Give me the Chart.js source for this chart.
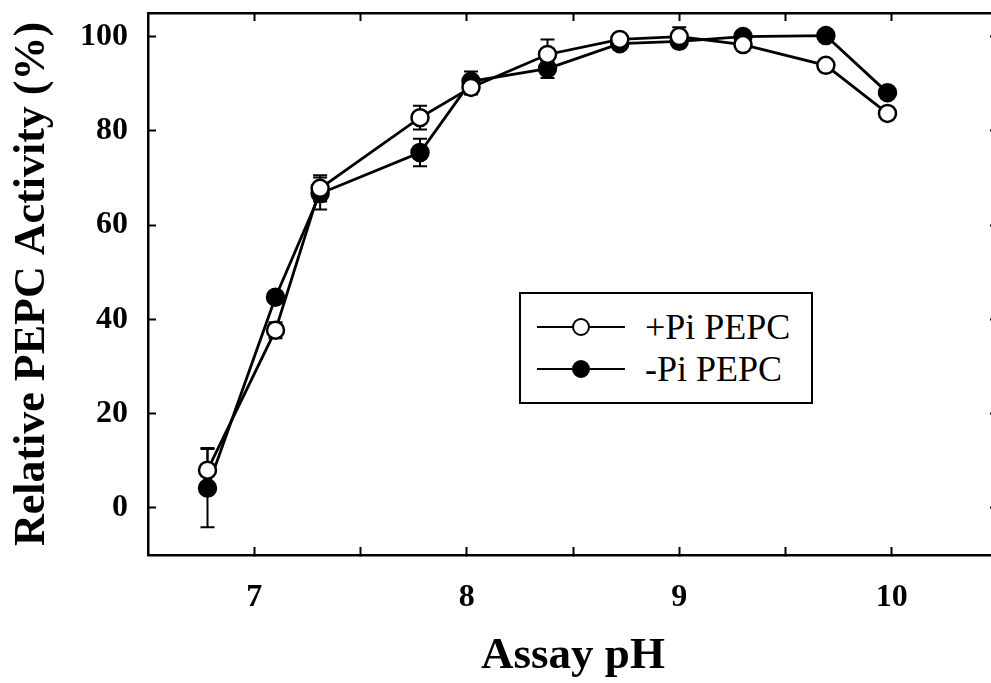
<!DOCTYPE html>
<html>
<head>
<meta charset="utf-8">
<script src="https://cdn.jsdelivr.net/npm/chart.js@4.4.1/dist/chart.umd.min.js"></script>
<style>
    html, body { margin: 0; background: #fff; overflow: hidden; }
    #wrap { position: relative; width: 991px; height: 683px; overflow: hidden; }
    #phChart { position: absolute; left: 0; top: 0; display: block; }
    #legend {
        position: absolute; left: 519px; top: 292px; width: 294px; height: 112px;
        border: 2px solid #000; background: #fff; box-sizing: border-box;
        font-family: 'Liberation Serif', serif; font-size: 36px; color: #000;
        padding-top: 12px;
    }
    #legend .row { display: flex; align-items: center; height: 42px; }
    #legend .sample { position: relative; width: 88px; height: 20px; margin-left: 16px; margin-right: 20px; }
    #legend .sample .ln { position: absolute; left: 0; right: 0; top: 9px; border-top: 2.5px solid #000; }
    #legend .sample .dot { position: absolute; left: 35px; top: 1px; width: 14px; height: 14px; border: 2.5px solid #000; border-radius: 50%; }
</style>
</head>
<body>
<div id="wrap">
    <!-- the frame of the original runs a few pixels past the right edge, so the canvas is clipped -->
    <canvas id="phChart" width="1000" height="683"></canvas>
    <div id="legend"></div>
</div>
<script>
// data
const assayPH = [6.78, 7.1, 7.31, 7.78, 8.02, 8.38, 8.72, 9.0, 9.3, 9.69, 9.98];
const plusPi = [8.0, 37.7, 67.8, 82.8, 89.2, 96.2, 99.4, 100, 98.3, 93.9, 83.7];
const plusPiErr = [4.7, 1.7, 2.8, 2.5, 1.5, 3.2, 1.0, 2.0, 0.5, 0.5, 0.5];
const minusPi = [4.2, 44.7, 66.7, 75.4, 90.5, 93.2, 98.5, 99.0, 100, 100.2, 88.1];
const minusPiErr = [8.3, 1.0, 3.4, 2.9, 2.1, 2.0, 1.0, 1.0, 0.5, 0.5, 0.5];
const seriesNames = ['+Pi PEPC', '-Pi PEPC'];
const xTicks = [7, 7.5, 8, 8.5, 9, 9.5, 10];
const yTicks = [0, 20, 40, 60, 80, 100];
const xMin = 6.5, xMax = 10.5;
const yMin = -10, yMax = 105;

const serif = "'Liberation Serif', 'Times New Roman', serif";
const errSets = [plusPiErr, minusPiErr];

function pts(ys) {
    return assayPH.map((x, i) => ({ x: x, y: ys[i] }));
}

// vertical error bars with caps, placed through the chart scales
const errorBars = {
    id: 'errorBars',
    beforeDatasetsDraw(chart) {
        const ctx = chart.ctx;
        const xs = chart.scales.x, ys = chart.scales.y;
        ctx.save();
        ctx.strokeStyle = '#000';
        ctx.lineWidth = 2;
        chart.data.datasets.forEach((ds, d) => {
            ds.data.forEach((p, i) => {
                const e = errSets[d][i];
                const px = xs.getPixelForValue(p.x);
                const top = ys.getPixelForValue(p.y + e);
                const bot = ys.getPixelForValue(p.y - e);
                ctx.beginPath();
                ctx.moveTo(px, top); ctx.lineTo(px, bot);
                ctx.moveTo(px - 7, top); ctx.lineTo(px + 7, top);
                ctx.moveTo(px - 7, bot); ctx.lineTo(px + 7, bot);
                ctx.stroke();
            });
        });
        ctx.restore();
    }
};

const frameGrid = {
    display: true,
    drawOnChartArea: false,
    drawTicks: true,
    tickLength: -8,
    tickColor: '#000',
    tickWidth: 2
};
const frameBorder = { display: true, color: '#000', width: 2.5 };

// fixed box sizes, no extra padding for edge labels
function fixBox(w, h) {
    return s => {
        if (w !== null) s.width = w;
        if (h !== null) s.height = h;
        s.paddingTop = 0; s.paddingBottom = 0;
        s.paddingLeft = 0; s.paddingRight = 0;
    };
}

const ctx = document.getElementById('phChart').getContext('2d');
const phChart = new Chart(ctx, {
    type: 'line',
    data: {
        datasets: [
            {
                label: seriesNames[0],
                data: pts(plusPi),
                borderColor: '#000',
                borderWidth: 2.8,
                pointRadius: 8.5,
                pointBorderWidth: 2.5,
                pointBackgroundColor: '#fff',
                pointBorderColor: '#000',
                tension: 0
            },
            {
                label: seriesNames[1],
                data: pts(minusPi),
                borderColor: '#000',
                borderWidth: 2.8,
                pointRadius: 8.5,
                pointBorderWidth: 2.5,
                pointBackgroundColor: '#000',
                pointBorderColor: '#000',
                tension: 0
            }
        ]
    },
    options: {
        responsive: false,
        animation: false,
        layout: { autoPadding: false, padding: { top: 13, right: 2, left: 0, bottom: 0 } },
        plugins: {
            legend: { display: false },
            tooltip: { enabled: false }
        },
        scales: {
            x: {
                type: 'linear',
                position: 'bottom',
                min: xMin,
                max: xMax,
                afterBuildTicks: s => { s.ticks = xTicks.map(v => ({ value: v })); },
                afterFit: fixBox(null, 128),
                ticks: {
                    padding: 32,
                    color: '#000',
                    font: { family: serif, size: 32, weight: 'bold' },
                    callback: v => (Number.isInteger(v) ? String(v) : '')
                },
                grid: frameGrid,
                border: frameBorder,
                title: {
                    display: true,
                    text: 'Assay pH',
                    color: '#000',
                    font: { family: serif, size: 45, weight: 'bold' },
                    padding: { top: 0, bottom: 0 }
                }
            },
            x2: {
                type: 'linear',
                position: 'top',
                min: xMin,
                max: xMax,
                afterBuildTicks: s => { s.ticks = xTicks.map(v => ({ value: v })); },
                afterFit: fixBox(null, 0),
                ticks: { display: false },
                grid: frameGrid,
                border: frameBorder
            },
            y: {
                type: 'linear',
                position: 'left',
                min: yMin,
                max: yMax,
                afterBuildTicks: s => { s.ticks = yTicks.map(v => ({ value: v })); },
                afterFit: fixBox(148, null),
                ticks: {
                    padding: 28,
                    color: '#000',
                    font: { family: serif, size: 32, weight: 'bold' }
                },
                grid: frameGrid,
                border: frameBorder,
                title: {
                    display: true,
                    text: 'Relative PEPC Activity (%)',
                    color: '#000',
                    font: { family: serif, size: 44, weight: 'bold' },
                    padding: { top: 6, bottom: 0 }
                }
            },
            y2: {
                type: 'linear',
                position: 'right',
                min: yMin,
                max: yMax,
                afterBuildTicks: s => { s.ticks = yTicks.map(v => ({ value: v })); },
                afterFit: fixBox(0, null),
                ticks: { display: false },
                grid: frameGrid,
                border: frameBorder
            }
        }
    },
    plugins: [errorBars]
});

// legend box drawn from the dataset styles
const legendEl = document.getElementById('legend');
phChart.data.datasets.forEach(ds => {
    const row = document.createElement('div');
    row.className = 'row';
    row.innerHTML = '<span class="sample"><span class="ln"></span><span class="dot" style="background:' +
        ds.pointBackgroundColor + '"></span></span><span>' + ds.label + '</span>';
    legendEl.appendChild(row);
});
</script>
</body>
</html>
